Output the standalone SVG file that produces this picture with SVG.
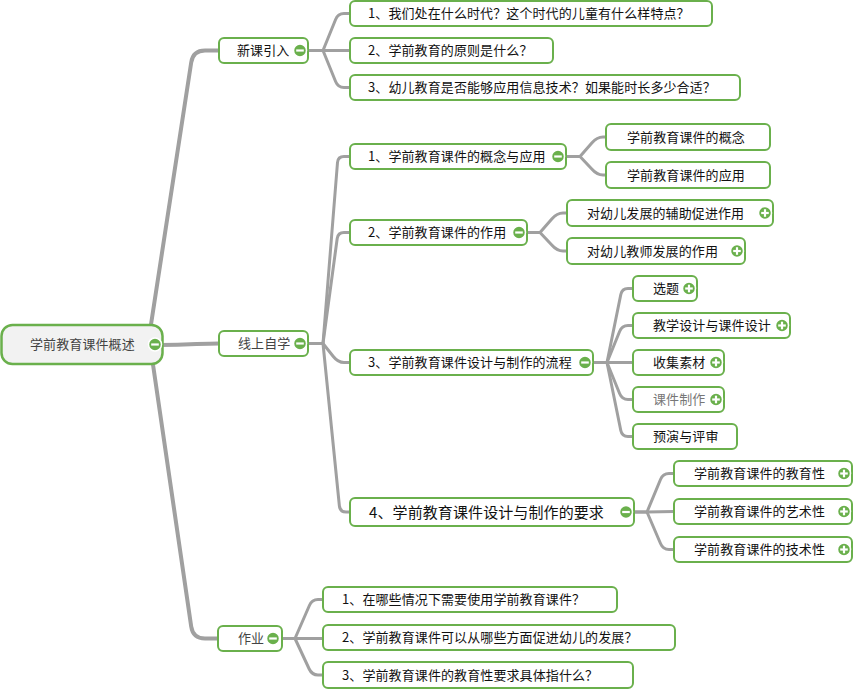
<svg xmlns="http://www.w3.org/2000/svg" width="853" height="690" viewBox="0 0 853 690">
<style>
.box{fill:#fff;stroke:#6ab04c;stroke-width:2}
.root{fill:#f2f2f2;stroke:#6ab04c;stroke-width:2.5}
.t{font-family:"Noto Sans CJK SC","Liberation Sans",sans-serif;font-size:13px;letter-spacing:0.1px;fill:#111}
.g{fill:#444}
.lg{fill:#777}
.big{font-size:15px}
.c1{fill:none;stroke:#a0a0a0;stroke-width:4;stroke-linecap:round;stroke-linejoin:round}
.c2{fill:none;stroke:#a0a0a0;stroke-width:3;stroke-linejoin:round}
.ic{fill:#6ab04c;stroke:#fff;stroke-width:1.5}
.bar{stroke:#fff;stroke-width:2.2;stroke-linecap:butt}
</style>
<defs>
<g id="minus"><circle class="ic" r="6.5"/><line class="bar" x1="-3.8" y1="0" x2="3.8" y2="0"/></g>
<g id="plus"><circle class="ic" r="6.5"/><line class="bar" x1="-3.8" y1="0" x2="3.8" y2="0"/><line class="bar" x1="0" y1="-3.8" x2="0" y2="3.8"/></g>
</defs>
<g id="connectors">
<path class="c1" d="M148 344 L191.2 62.5 Q193 50.5 205 50.5 H219"/>
<path class="c1" d="M160 345 C190 345 200 343.5 219 343.5"/>
<path class="c1" d="M150 344 L191.2 626.5 Q193 638.5 205 638.5 H218"/>
<path class="c2" d="M308 50.5 H323 L335.6 19.5 Q338 13.5 344 13.5 H350"/>
<path class="c2" d="M308 50.5 H350"/>
<path class="c2" d="M323 50.5 L335.6 81.5 Q338 87.5 344 87.5 H350"/>
<path class="c2" d="M308 343.5 H323 L337.5 162.5 Q338 156.5 344 156.5 H350"/>
<path class="c2" d="M323 343.5 L337.2 238.5 Q338 232.5 344 232.5 H350"/>
<path class="c2" d="M323 343.5 L333.3 356.5 Q338 362.5 344 362.5 H350"/>
<path class="c2" d="M323 343.5 L339.4 506 Q340 512 346 512 H350"/>
<path class="c2" d="M566 156.5 H580 L591.8 143 Q597 137 603 137 H606"/>
<path class="c2" d="M580 156.5 L591.8 169 Q597 175 603 175 H606"/>
<path class="c2" d="M527 232.5 H540 L551.8 219 Q557 213 563 213 H567"/>
<path class="c2" d="M540 232.5 L551.8 245 Q557 251 563 251 H567"/>
<path class="c2" d="M593 362.5 H607 L620.8 294.5 Q622 288.5 628 288.5 H633"/>
<path class="c2" d="M607 362.5 L619.6 331.5 Q622 325.5 628 325.5 H633"/>
<path class="c2" d="M593 362.5 H633"/>
<path class="c2" d="M607 362.5 L619.6 393.5 Q622 399.5 628 399.5 H633"/>
<path class="c2" d="M607 362.5 L620.8 430.5 Q622 436.5 628 436.5 H633"/>
<path class="c2" d="M634 512 H647 L660.5 479.5 Q663 473.5 669 473.5 H674"/>
<path class="c2" d="M634 512 H647 L674 511.5"/>
<path class="c2" d="M647 512 L660.5 543.5 Q663 549.5 669 549.5 H674"/>
<path class="c2" d="M282 638.5 H295 L309.4 605.5 Q312 599.5 318 599.5 H323"/>
<path class="c2" d="M282 638.5 H323"/>
<path class="c2" d="M295 638.5 L309.2 669 Q312 675 318 675 H323"/>
</g>
<g id="root"><rect class="root" x="1.5" y="325" width="161" height="39" rx="11"/><text class="t g" x="30" y="349">学前教育课件概述</text><use href="#minus" x="155" y="344.5"/></g>
<g id="xinke"><rect class="box" x="219" y="38" width="89" height="25" rx="5"/><text class="t" x="237" y="55">新课引入</text><use href="#minus" x="300" y="50.5"/></g>
<g id="xianshang"><rect class="box" x="219" y="331" width="89" height="25" rx="5"/><text class="t g" x="238" y="348">线上自学</text><use href="#minus" x="300" y="343.5"/></g>
<g id="zuoye"><rect class="box" x="218" y="626" width="64" height="25" rx="5"/><text class="t g" x="238" y="643">作业</text><use href="#minus" x="273" y="638.5"/></g>
<g id="n1"><rect class="box" x="350" y="1" width="362" height="25" rx="5"/><text class="t" x="368" y="18">1、我们处在什么时代？这个时代的儿童有什么样特点？</text></g>
<g id="n2"><rect class="box" x="350" y="38" width="203" height="25" rx="5"/><text class="t" x="368" y="55">2、学前教育的原则是什么？</text></g>
<g id="n3"><rect class="box" x="350" y="75" width="390" height="25" rx="5"/><text class="t" x="368" y="92">3、幼儿教育是否能够应用信息技术？如果能时长多少合适？</text></g>
<g id="l1"><rect class="box" x="350" y="144" width="216" height="25" rx="5"/><text class="t" x="368" y="161">1、学前教育课件的概念与应用</text><use href="#minus" x="558" y="156.5"/></g>
<g id="l1a"><rect class="box" x="606" y="124" width="164" height="26" rx="5"/><text class="t" x="627" y="141.5">学前教育课件的概念</text></g>
<g id="l1b"><rect class="box" x="606" y="162" width="164" height="26" rx="5"/><text class="t" x="627" y="179.5">学前教育课件的应用</text></g>
<g id="l2"><rect class="box" x="350" y="220" width="177" height="25" rx="5"/><text class="t" x="368" y="237">2、学前教育课件的作用</text><use href="#minus" x="519" y="232.5"/></g>
<g id="l2a"><rect class="box" x="567" y="200" width="206" height="26" rx="5"/><text class="t" x="587" y="217.5">对幼儿发展的辅助促进作用</text><use href="#plus" x="765" y="213"/></g>
<g id="l2b"><rect class="box" x="567" y="238" width="178" height="26" rx="5"/><text class="t" x="587" y="255.5">对幼儿教师发展的作用</text><use href="#plus" x="737" y="251"/></g>
<g id="l3"><rect class="box" x="350" y="350" width="243" height="25" rx="5"/><text class="t" x="368" y="367">3、学前教育课件设计与制作的流程</text><use href="#minus" x="585" y="362.5"/></g>
<g id="l3a"><rect class="box" x="633" y="276" width="64" height="25" rx="5"/><text class="t" x="653" y="293">选题</text><use href="#plus" x="689" y="288.5"/></g>
<g id="l3b"><rect class="box" x="633" y="313" width="157" height="25" rx="5"/><text class="t" x="653" y="330">教学设计与课件设计</text><use href="#plus" x="782" y="325.5"/></g>
<g id="l3c"><rect class="box" x="633" y="350" width="91" height="25" rx="5"/><text class="t" x="653" y="367">收集素材</text><use href="#plus" x="716" y="362.5"/></g>
<g id="l3d"><rect class="box" x="633" y="387" width="91" height="25" rx="5"/><text class="t lg" x="653" y="404">课件制作</text><use href="#plus" x="716" y="399.5"/></g>
<g id="l3e"><rect class="box" x="633" y="424" width="104" height="25" rx="5"/><text class="t" x="653" y="441">预演与评审</text></g>
<g id="l4"><rect class="box" x="350" y="498" width="284" height="28" rx="5"/><text class="t big" x="369" y="517.5">4、学前教育课件设计与制作的要求</text><use href="#minus" x="626" y="512"/></g>
<g id="l4a"><rect class="box" x="674" y="461" width="178" height="25" rx="5"/><text class="t" x="694" y="478">学前教育课件的教育性</text><use href="#plus" x="844" y="473.5"/></g>
<g id="l4b"><rect class="box" x="674" y="499" width="178" height="25" rx="5"/><text class="t" x="694" y="516">学前教育课件的艺术性</text><use href="#plus" x="844" y="511.5"/></g>
<g id="l4c"><rect class="box" x="674" y="537" width="178" height="25" rx="5"/><text class="t" x="694" y="554">学前教育课件的技术性</text><use href="#plus" x="844" y="549.5"/></g>
<g id="h1"><rect class="box" x="323" y="587" width="294" height="25" rx="5"/><text class="t" x="342" y="604">1、在哪些情况下需要使用学前教育课件？</text></g>
<g id="h2"><rect class="box" x="323" y="625" width="352" height="25" rx="5"/><text class="t" x="342" y="642">2、学前教育课件可以从哪些方面促进幼儿的发展？</text></g>
<g id="h3"><rect class="box" x="323" y="662" width="310" height="26" rx="5"/><text class="t" x="342" y="679.5">3、学前教育课件的教育性要求具体指什么？</text></g>
</svg>
